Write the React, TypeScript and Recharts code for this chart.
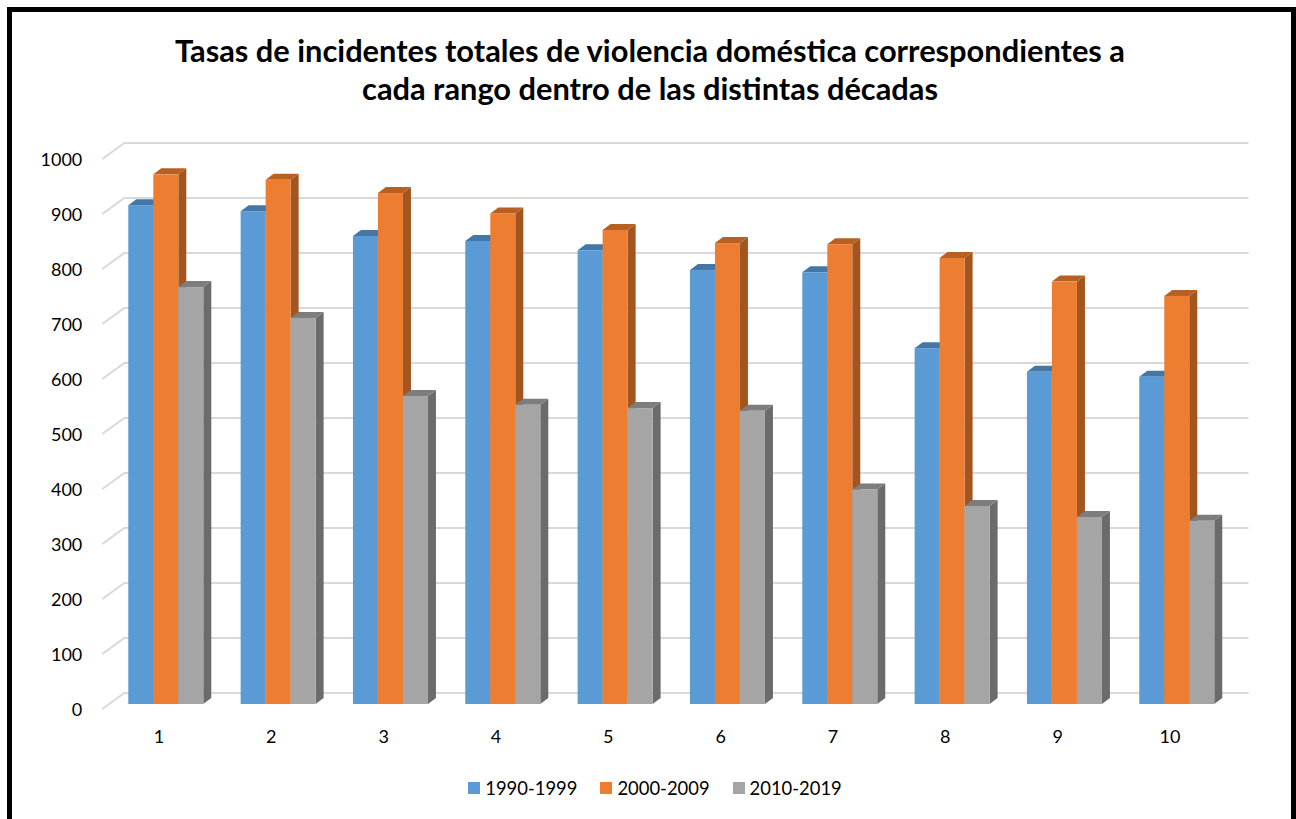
import { BarChart, Bar, XAxis, YAxis, CartesianGrid, Legend } from "recharts";

const categories = [1, 2, 3, 4, 5, 6, 7, 8, 9, 10];
const decade1990 = [907, 896, 851, 842, 825, 789, 785, 647, 604, 595];
const decade2000 = [963, 953, 929, 892, 862, 838, 836, 811, 768, 742];
const decade2010 = [758, 702, 560, 544, 538, 533, 390, 360, 340, 333];
const yTicks = [0, 100, 200, 300, 400, 500, 600, 700, 800, 900, 1000];

const data = categories.map((c, i) => ({
  name: c,
  a: decade1990[i],
  b: decade2000[i],
  c: decade2010[i],
}));

const FONT = "Lato, sans-serif";
// profundidad del efecto 3D de las barras
const DX = 8;
const DY = 6;

function bar3d(front: string, top: string, side: string) {
  return (props: any) => {
    const { x, y, width, height } = props;
    return (
      <g>
        <polygon
          points={`${x + width},${y} ${x + width + DX},${y - DY} ${x + width + DX},${y + height - DY} ${x + width},${y + height}`}
          fill={side}
        />
        <polygon
          points={`${x},${y} ${x + DX},${y - DY} ${x + width + DX},${y - DY} ${x + width},${y}`}
          fill={top}
        />
        <rect x={x} y={y} width={width} height={height} fill={front} />
      </g>
    );
  };
}

// línea de la pared del fondo más el tramo diagonal del lado izquierdo
function wallLine(props: any) {
  const { x1, y1, x2 } = props;
  return (
    <polyline
      key={y1}
      points={`${x1 - 7},${y1 + 5} ${x1 + 15},${y1 - 11} ${x2 + 16},${y1 - 11}`}
      fill="none"
      stroke="#D9D9D9"
      strokeWidth={2}
    />
  );
}

function XTick(props: any) {
  const { x, y, payload } = props;
  return (
    <text x={x - 6.5} y={y} textAnchor="middle" dominantBaseline="central" fontFamily={FONT} fontSize={18} fill="#000">
      {payload.value}
    </text>
  );
}

function LegendRow(props: any) {
  return (
    <div style={{ display: "flex", justifyContent: "center", gap: 23, paddingLeft: 14 }}>
      {props.payload.map((p: any) => (
        <span key={p.value} style={{ display: "flex", alignItems: "center", gap: 5, fontFamily: FONT, fontSize: 18.4, color: "#000" }}>
          <span style={{ width: 12, height: 12, background: p.color, display: "inline-block" }} />
          {p.value}
        </span>
      ))}
    </div>
  );
}

export default function App() {
  return (
    <div
      style={{
        position: "absolute",
        left: 7,
        top: 7,
        width: 1289,
        height: 812,
        boxSizing: "border-box",
        border: "5px solid #000",
        borderBottom: "none",
        background: "#fff",
        overflow: "hidden",
      }}
    >
      <div
        style={{
          position: "absolute",
          left: -3,
          right: 0,
          top: 20,
          textAlign: "center",
          fontFamily: FONT,
          fontWeight: 700,
          fontSize: 30.8,
          lineHeight: "37.5px",
          color: "#000",
        }}
      >
        Tasas de incidentes totales de violencia doméstica correspondientes a
        <br />
        cada rango dentro de las distintas décadas
      </div>
      <div style={{ position: "absolute", left: -12, top: -12 }}>
        <BarChart
          width={1296}
          height={812}
          data={data}
          barSize={25}
          barGap={0}
          margin={{ top: 154, right: 63.4, bottom: 56, left: 9.3 }}
        >
          <CartesianGrid horizontal={wallLine} vertical={false} />
          <XAxis dataKey="name" axisLine={false} tickLine={false} tick={<XTick />} tickMargin={26} interval={0} />
          <YAxis
            domain={[0, 1000]}
            ticks={yTicks}
            axisLine={false}
            tickLine={false}
            width={100}
            tick={{ fontFamily: FONT, fontSize: 18, fill: "#000", dy: 6, dx: -19 }}
          />
          <Legend
            content={<LegendRow />}
            verticalAlign="bottom"
            wrapperStyle={{ left: 0, width: 1296, bottom: 13 }}
          />
          <Bar dataKey="a" name="1990-1999" fill="#5B9BD5" isAnimationActive={false} shape={bar3d("#5B9BD5", "#4477A6", "#41719C")} />
          <Bar dataKey="b" name="2000-2009" fill="#ED7D31" isAnimationActive={false} shape={bar3d("#ED7D31", "#B85F22", "#A35520")} />
          <Bar dataKey="c" name="2010-2019" fill="#A5A5A5" isAnimationActive={false} shape={bar3d("#A5A5A5", "#7D7D7D", "#6B6B6B")} />
        </BarChart>
      </div>
    </div>
  );
}
